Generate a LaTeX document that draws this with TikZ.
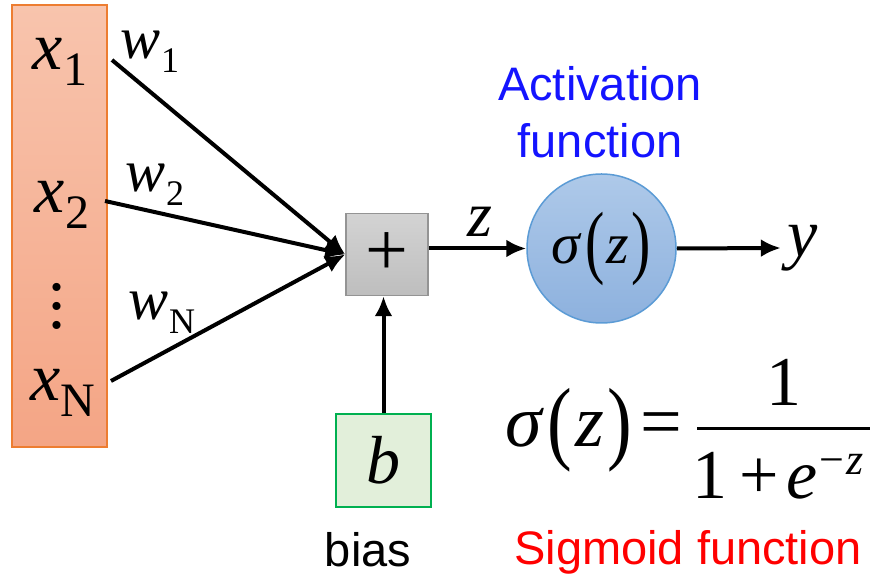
\documentclass[tikz,border=0pt]{standalone}
\usepackage{fontspec}
\setmainfont{Liberation Serif}
\newfontfamily\arialfont{Liberation Sans}
\usepackage{graphicx}
\usepackage{xcolor}
\usetikzlibrary{arrows.meta,positioning}

\definecolor{inTop}{HTML}{F8C4AD}
\definecolor{inBot}{HTML}{F4A585}
\definecolor{inLine}{HTML}{ED7D31}
\definecolor{sumTop}{HTML}{D3D3D3}
\definecolor{sumBot}{HTML}{BEBEBE}
\definecolor{actTop}{HTML}{AEC9E9}
\definecolor{actBot}{HTML}{8DB1DE}
\definecolor{actLine}{HTML}{5B9BD5}
\definecolor{biasFill}{HTML}{E2EFDA}
\definecolor{biasLine}{HTML}{00B050}
\definecolor{actBlue}{HTML}{1414FF}

\newcommand{\fs}[1]{\fontsize{#1pt}{#1pt}\selectfont}
\newcommand{\xsub}[2]{{\itshape #1}\raisebox{-8pt}{\fs{24}\upshape #2}}
\newcommand{\wsub}[2]{{\itshape #1}\raisebox{-7pt}{\fs{18}\upshape #2}}
\newcommand{\tallpar}[2]{\raisebox{-0.08em}{\scalebox{1}[#1]{#2}}}
\newcommand{\sigz}[1]{{\itshape σ}\kern0.08em\tallpar{#1}{(}\kern0.04em{\itshape z}\kern0.04em\tallpar{#1}{)}}

\begin{document}
\begin{tikzpicture}[x=0.5pt,y=-0.5pt,
  arr/.style={line width=2pt,-{Latex[length=10pt,width=9pt]}},
  inlab/.style={font=\fs{34}},
  wlab/.style={font=\fs{30}},
  sanslab/.style={font=\arialfont\fontsize{23.5pt}{28.5pt}\selectfont}]
\useasboundingbox (0,0) rectangle (872,581);

\node (inputs) [draw=inLine,line width=0.75pt,top color=inTop,bottom color=inBot,
  minimum width=47.5pt,minimum height=221pt,inner sep=0pt] at (59.5,226) {};
\node (x1) [inlab] at (60,62) {\xsub{x}{1}};
\node (x2) [inlab] at (62,205) {\xsub{x}{2}};
\node (vd) [font=\fontsize{34pt}{9.5pt}\selectfont,align=center,inner sep=0pt] at (57,306) {.\\.\\.};
\node (xN) [inlab] at (63,393) {\xsub{x}{N}};

\node (sum) [draw=sumTop!70!black,line width=0.75pt,top color=sumTop,bottom color=sumBot,
  minimum size=41pt,inner sep=0pt,font=\fs{38}] at (387,254.5) {+};
\node (act) [circle,draw=actLine,line width=0.75pt,top color=actTop,bottom color=actBot,
  minimum size=74.5pt,inner sep=0pt,font=\fs{29}] at (601.5,248.5) {\sigz{1.4}};
\node (bias) [draw=biasLine,line width=0.75pt,fill=biasFill,
  minimum width=47.5pt,minimum height=46.5pt,inner sep=0pt,font=\fs{34}] at (383.5,460.5)
  {\itshape b};
\node (biaslab) [sanslab] at (368,550) {bias};

\coordinate (s1) at (112,60);
\coordinate (s2) at (105,201);
\coordinate (sN) at (111,381);
\draw[arr] (s1) -- (sum.west);
\draw[arr] (s2) -- (sum.west);
\draw[arr] (sN) -- (sum.west);
\node (w1) [wlab] at (150,52) {\wsub{w}{1}};
\node (w2) [wlab] at (155,185) {\wsub{w}{2}};
\node (wN) [wlab] at (162,313) {\wsub{w}{N}};

\draw[arr] (bias.north) -- (bias.north |- sum.south);
\draw[arr] (sum.east |- act) -- (act.west);
\node (zlab) [font=\itshape\fs{32}] at (480,222) {z};
\node (ylab) [font=\itshape\fs{34}] at (803,248) {y};
\draw[arr] (act.east) -- (ylab.west);

\node (actlab) [sanslab,align=center,text=actBlue] at (600,112) {Activation\\function};

\node (lhs) [font=\fs{37}] at (594,430) {\sigz{1.25}\kern0.12em=};
\node (num) [font=\fs{35}] at (784,382) {1};
\node (den) [font=\fs{35}] at (778,476)
  {1\kern0.18em+\kern0.1em{\itshape e}\raisebox{12pt}{\fs{22}\kern1pt−\kern1pt{\itshape z}}};
\coordinate (barl) at (697,429);
\coordinate (barr) at (870,429);
\draw[line width=1.5pt] (barl) -- (barr);
\node (siglab) [sanslab,text=red] at (688,552) {Sigmoid function};
\end{tikzpicture}
\end{document}
